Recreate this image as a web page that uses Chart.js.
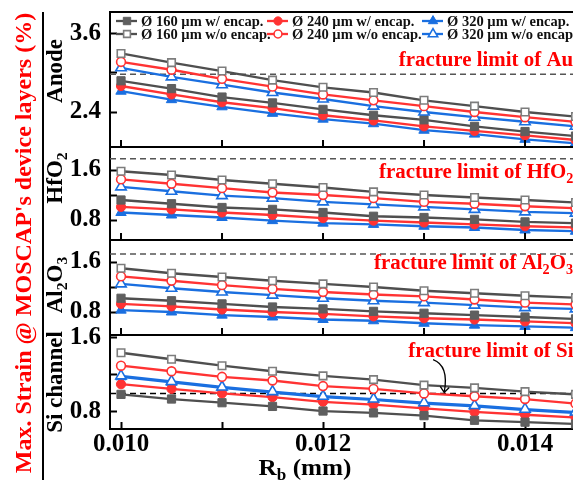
<!DOCTYPE html>
<html>
<head>
<meta charset="utf-8">
<script src="https://cdn.jsdelivr.net/npm/chart.js@4.4.1/dist/chart.umd.min.js"></script>
<style>
  html, body { margin: 0; padding: 0; background: #fff; }
  #wrap { position: relative; width: 573px; height: 488px; }
</style>
</head>
<body>
<div id="wrap"><canvas id="strainChart" width="573" height="488"></canvas></div>
<script>
// bend radius R_b (mm)
const rb = [0.0100, 0.0105, 0.0110, 0.0115, 0.0120, 0.0125, 0.0130, 0.0135, 0.0140, 0.0145];

// Anode (%)
const anode160w  = [2.88, 2.76, 2.63, 2.54, 2.44, 2.35, 2.28, 2.18, 2.10, 2.03];
const anode240w  = [2.80, 2.67, 2.55, 2.46, 2.35, 2.27, 2.18, 2.11, 2.04, 1.97];
const anode320w  = [2.72, 2.59, 2.48, 2.38, 2.29, 2.22, 2.12, 2.06, 1.98, 1.92];
const anode160wo = [3.30, 3.16, 3.03, 2.89, 2.78, 2.70, 2.58, 2.49, 2.40, 2.33];
const anode240wo = [3.17, 3.05, 2.91, 2.79, 2.67, 2.58, 2.49, 2.40, 2.32, 2.25];
const anode320wo = [3.08, 2.94, 2.82, 2.70, 2.60, 2.49, 2.40, 2.32, 2.25, 2.18];

// HfO2 (%)
const hfo160w  = [1.12, 1.06, 1.00, 0.97, 0.92, 0.86, 0.84, 0.81, 0.77, 0.75];
const hfo240w  = [1.01, 0.97, 0.92, 0.88, 0.83, 0.79, 0.76, 0.73, 0.70, 0.68];
const hfo320w  = [0.92, 0.88, 0.84, 0.79, 0.75, 0.73, 0.70, 0.68, 0.64, 0.62];
const hfo160wo = [1.58, 1.52, 1.44, 1.38, 1.32, 1.25, 1.20, 1.16, 1.12, 1.08];
const hfo240wo = [1.45, 1.38, 1.31, 1.24, 1.20, 1.15, 1.09, 1.06, 1.02, 0.99];
const hfo320wo = [1.33, 1.26, 1.19, 1.15, 1.09, 1.05, 1.01, 0.97, 0.93, 0.91];

// Al2O3 (%)
const al160w  = [1.02, 0.98, 0.93, 0.88, 0.85, 0.81, 0.78, 0.75, 0.72, 0.69];
const al240w  = [0.93, 0.89, 0.84, 0.80, 0.77, 0.73, 0.70, 0.68, 0.65, 0.62];
const al320w  = [0.83, 0.80, 0.75, 0.72, 0.68, 0.66, 0.62, 0.59, 0.57, 0.55];
const al160wo = [1.50, 1.42, 1.36, 1.30, 1.25, 1.20, 1.14, 1.10, 1.06, 1.03];
const al240wo = [1.37, 1.30, 1.23, 1.17, 1.12, 1.08, 1.05, 1.00, 0.95, 0.92];
const al320wo = [1.25, 1.18, 1.12, 1.07, 1.02, 0.98, 0.95, 0.91, 0.87, 0.85];

// Si channel (%)
const si160w  = [0.99, 0.94, 0.90, 0.86, 0.81, 0.79, 0.76, 0.71, 0.69, 0.67];
const si240w  = [1.10, 1.05, 1.00, 0.96, 0.91, 0.88, 0.84, 0.80, 0.77, 0.74];
const si320w  = [1.18, 1.12, 1.06, 1.01, 0.96, 0.93, 0.89, 0.86, 0.82, 0.79];
const si160wo = [1.44, 1.37, 1.30, 1.24, 1.19, 1.15, 1.09, 1.06, 1.02, 0.99];
const si240wo = [1.30, 1.24, 1.18, 1.14, 1.08, 1.05, 1.00, 0.97, 0.94, 0.89];
const si320wo = [1.19, 1.13, 1.07, 1.02, 0.97, 0.94, 0.90, 0.87, 0.83, 0.80];

// fracture limits (%)
const fractureLimits = [2.98, 1.78, 1.73, 1.00];

// tick labels
const xTickLabels = [0.010, 0.012, 0.014];
const anodeTickLabels = [2.4, 3.6];
const oxideTickLabels = [0.8, 1.6];

const seriesLabels = ['Ø 160 µm w/ encap.', 'Ø 240 µm w/ encap.', 'Ø 320 µm w/ encap.',
                      'Ø 160 µm w/o encap.', 'Ø 240 µm w/o encap.', 'Ø 320 µm w/o encap.'];

// ---- styles ----
const SERIF = '"Liberation Serif", "Times New Roman", serif';
const GRAY = '#4f4f4f', RED = '#ff3333', BLUE = '#1a6fe0';
const SERIES_STYLE = [
  { line: GRAY, point: '#5f5f5f', fill: '#5f5f5f', shape: 'rect',     radius: 5.8 },
  { line: RED,  point: RED,       fill: RED,       shape: 'circle',   radius: 4.6 },
  { line: BLUE, point: BLUE,      fill: BLUE,      shape: 'triangle', radius: 6 },
  { line: GRAY, point: '#7d7d7d', fill: '#fff',    shape: 'rect',     radius: 5.3 },
  { line: RED,  point: RED,       fill: '#fff',    shape: 'circle',   radius: 4.4 },
  { line: BLUE, point: BLUE,      fill: '#fff',    shape: 'triangle', radius: 6 }
];

const panels = [
  { axis: 'yAnode', name: [{t: 'Anode'}], series: [anode160w, anode240w, anode320w, anode160wo, anode240wo, anode320wo], dash: '#555' },
  { axis: 'yHf', name: [{t: 'HfO'}, {t: '2', sub: true}], series: [hfo160w, hfo240w, hfo320w, hfo160wo, hfo240wo, hfo320wo], dash: '#555' },
  { axis: 'yAl', name: [{t: 'Al'}, {t: '2', sub: true}, {t: 'O'}, {t: '3', sub: true}], series: [al160w, al240w, al320w, al160wo, al240wo, al320wo], dash: '#555' },
  { axis: 'ySi', name: [{t: 'Si channel'}], series: [si160w, si240w, si320w, si160wo, si240wo, si320wo], dash: '#000' }
];

const datasets = [];
panels.forEach((p, pi) => {
  // open-marker series first so they draw over the filled ones
  [3, 4, 5, 0, 1, 2].forEach(si => {
    const st = SERIES_STYLE[si];
    datasets.push({
      label: seriesLabels[si],
      yAxisID: p.axis,
      data: rb.map((x, i) => ({ x: x, y: p.series[si][i] })),
      borderColor: st.line,
      borderWidth: 2.3,
      backgroundColor: st.fill,
      pointBackgroundColor: st.fill,
      pointBorderColor: st.point,
      pointBorderWidth: si >= 3 ? 1.6 : 1,
      pointStyle: st.shape,
      pointRadius: st.radius,
      tension: 0
    });
  });
  datasets.push({
    label: 'limit',
    yAxisID: p.axis,
    data: [{ x: rb[0] - 0.001, y: fractureLimits[pi] }, { x: rb[rb.length - 1] + 0.001, y: fractureLimits[pi] }],
    borderColor: p.dash,
    borderWidth: 1.5,
    borderDash: [6, 4],
    pointRadius: 0,
    order: 10
  });
});

const TICK_FONT = { family: SERIF, size: 25, weight: 'bold' };

function yAxis(min, max, step, labels, weight) {
  return {
    type: 'linear', position: 'left', stack: 'layers', stackWeight: weight,
    min: min, max: max,
    border: { display: true, color: '#000', width: 2 },
    grid: { drawOnChartArea: false, tickLength: -7, tickWidth: 2, tickColor: '#000' },
    ticks: {
      stepSize: step, includeBounds: false, autoSkip: false, padding: 16, color: '#000', font: TICK_FONT,
      callback: v => labels.some(l => Math.abs(l - v) < 1e-6) ? v.toFixed(1) : ''
    },
    afterFit: s => { s.width = 110; s.paddingTop = 0; s.paddingBottom = 0; }
  };
}

// text with sub-scripts; sx stretches the glyphs horizontally
function drawParts(ctx, parts, x, y, size, align, sx) {
  sx = sx || 1;
  const widths = parts.map(p => {
    ctx.font = 'bold ' + (p.sub ? size * 0.68 : size) + 'px ' + SERIF;
    return ctx.measureText(p.t).width;
  });
  const total = widths.reduce((a, b) => a + b, 0);
  ctx.save();
  ctx.translate(x, y);
  ctx.scale(sx, 1);
  let cx = align === 'center' ? -total / 2 : 0;
  ctx.textAlign = 'left';
  ctx.textBaseline = 'middle';
  parts.forEach((p, i) => {
    ctx.font = 'bold ' + (p.sub ? size * 0.68 : size) + 'px ' + SERIF;
    ctx.fillText(p.t, cx, p.sub ? size * 0.3 : 0);
    cx += widths[i];
  });
  ctx.restore();
}

function drawMarker(ctx, st, x, y) {
  ctx.fillStyle = st.fill;
  ctx.strokeStyle = st.point;
  ctx.lineWidth = st.fill === '#fff' ? 1.6 : 1;
  if (Chart.helpers && Chart.helpers.drawPoint) {
    Chart.helpers.drawPoint(ctx, { pointStyle: st.shape, radius: st.radius, rotation: 0, borderWidth: ctx.lineWidth }, x, y);
  }
}

// legend, side titles, panel frames and fracture notes
const decorPlugin = {
  id: 'decor',
  afterDatasetsDraw(chart) {
    const { ctx, chartArea, scales } = chart;
    const xs = scales.x;
    ctx.save();

    // frames between panels
    ctx.strokeStyle = '#000';
    ctx.lineWidth = 2;
    panels.forEach(p => {
      const s = scales[p.axis];
      ctx.beginPath();
      ctx.moveTo(chartArea.left - 1, s.top);
      ctx.lineTo(chartArea.right, s.top);
      if (s.bottom < chartArea.bottom - 2) {
        ctx.moveTo(chartArea.left - 1, s.bottom);
        ctx.lineTo(chartArea.right, s.bottom);
        xs.ticks.forEach(t => {
          const px = xs.getPixelForValue(t.value);
          ctx.moveTo(px, s.bottom);
          ctx.lineTo(px, s.bottom - 7);
        });
      }
      ctx.stroke();
    });

    // legend
    const colX = [141, 292, 447];
    const rowY = [21, 34];
    for (let i = 0; i < 6; i++) {
      const st = SERIES_STYLE[i];
      const tx = colX[i % 3], ty = rowY[Math.floor(i / 3)];
      ctx.strokeStyle = st.line;
      ctx.lineWidth = 2.3;
      ctx.beginPath();
      ctx.moveTo(tx - 25, ty);
      ctx.lineTo(tx - 4, ty);
      ctx.stroke();
      drawMarker(ctx, Object.assign({}, st, { radius: st.radius * 0.9 }), tx - 14, ty);
      ctx.fillStyle = '#111';
      ctx.font = 'bold 14.5px ' + SERIF;
      ctx.textAlign = 'left';
      ctx.textBaseline = 'middle';
      ctx.fillText(seriesLabels[i], tx, ty + 1);
    }

    // fracture limit notes
    ctx.fillStyle = '#ff0000';
    const notes = [
      { axis: 'yAnode', x: 0.01275, y: 3.185, parts: [{t: 'fracture limit of Au'}] },
      { axis: 'yHf', x: 0.012555, y: 1.552, parts: [{t: 'fracture limit of HfO'}, {t: '2', sub: true}] },
      { axis: 'yAl', x: 0.012505, y: 1.568, parts: [{t: 'fracture limit of Al'}, {t: '2', sub: true}, {t: 'O'}, {t: '3', sub: true}] },
      { axis: 'ySi', x: 0.012845, y: 1.449, parts: [{t: 'fracture limit of Si'}] }
    ];
    notes.forEach(n => {
      drawParts(ctx, n.parts, xs.getPixelForValue(n.x), scales[n.axis].getPixelForValue(n.y), 20.5, 'left', 1.02);
    });

    // arrow to the Si limit
    const ys = scales.ySi;
    const ax0 = xs.getPixelForValue(0.01309), ay0 = ys.getPixelForValue(1.365);
    const ax1 = xs.getPixelForValue(0.01320), ay1 = ys.getPixelForValue(fractureLimits[3]) - 1;
    ctx.strokeStyle = '#000';
    ctx.lineWidth = 1.3;
    ctx.beginPath();
    ctx.moveTo(ax0, ay0);
    ctx.quadraticCurveTo(ax1 + 5, ay0 + 6, ax1, ay1);
    ctx.moveTo(ax1 - 4, ay1 - 6);
    ctx.lineTo(ax1, ay1);
    ctx.lineTo(ax1 + 5, ay1 - 5);
    ctx.stroke();

    ctx.restore();
  },
  afterDraw(chart) {
    const { ctx } = chart;
    ctx.save();
    // panel names
    ctx.fillStyle = '#000';
    const nameY = [71, 178, 285, 382];
    panels.forEach((p, i) => {
      ctx.save();
      ctx.translate(56, nameY[i]);
      ctx.rotate(-Math.PI / 2);
      drawParts(ctx, p.name, 0, 0, 23, 'center');
      ctx.restore();
    });
    // divider line
    ctx.strokeStyle = '#000';
    ctx.lineWidth = 2;
    ctx.beginPath();
    ctx.moveTo(43, 12);
    ctx.lineTo(43, 480);
    ctx.stroke();
    // main y title
    ctx.save();
    ctx.translate(25, 243);
    ctx.rotate(-Math.PI / 2);
    ctx.fillStyle = '#ff0000';
    drawParts(ctx, [{t: "Max. Strain @ MOSCAP's device layers (%)"}], 0, 0, 24, 'center');
    ctx.restore();
    // x title
    ctx.fillStyle = '#000';
    drawParts(ctx, [{t: 'R'}, {t: 'b', sub: true}, {t: ' (mm)'}], 305, 469, 24, 'center', 1.05);
    ctx.restore();
  }
};

new Chart(document.getElementById('strainChart'), {
  type: 'line',
  data: { datasets: datasets },
  options: {
    responsive: false,
    animation: false,
    devicePixelRatio: 1,
    layout: { padding: { top: 12, left: 0, right: 0, bottom: 0 }, autoPadding: false },
    plugins: { legend: { display: false }, tooltip: { enabled: false } },
    scales: {
      x: {
        type: 'linear', position: 'bottom', min: 0.009891, max: 0.014475,
        border: { display: true, color: '#000', width: 2 },
        grid: { drawOnChartArea: false, tickLength: -7, tickWidth: 2, tickColor: '#000' },
        ticks: {
          stepSize: 0.001, includeBounds: false, autoSkip: false, maxRotation: 0, padding: 8,
          color: '#000', font: TICK_FONT,
          callback: v => xTickLabels.some(l => Math.abs(l - v) < 1e-7) ? v.toFixed(3) : ''
        },
        afterFit: s => { s.height = 59; s.paddingLeft = 0; s.paddingRight = 0; }
      },
      ySi: yAxis(0.616, 1.632, 0.4, oxideTickLabels, 94),
      yAl: yAxis(0.432, 1.952, 0.4, oxideTickLabels, 95),
      yHf: yAxis(0.48, 1.968, 0.4, oxideTickLabels, 93),
      yAnode: yAxis(1.862, 3.938, 0.6, anodeTickLabels, 135)
    }
  },
  plugins: [decorPlugin]
});
</script>
</body>
</html>
